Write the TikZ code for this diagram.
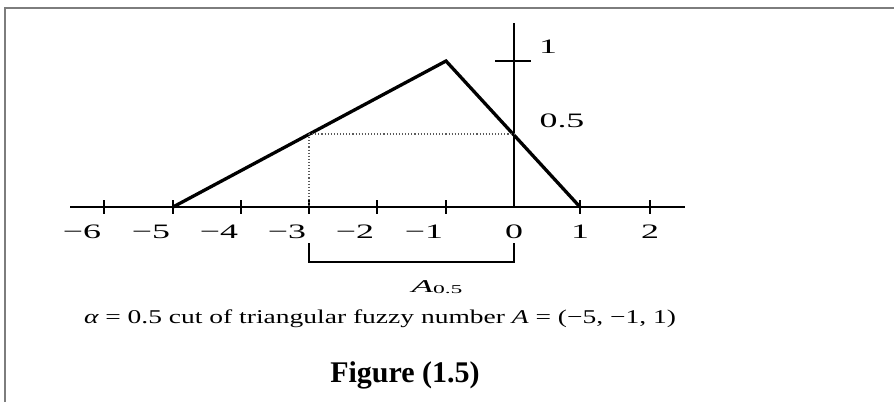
\documentclass[tikz,border=0pt]{standalone}
\usepackage{fontspec}
\setmainfont{Liberation Serif}
\definecolor{framegray}{RGB}{125,125,125}
\definecolor{dotgray}{RGB}{90,90,90}
\newcommand\ticktext[1]{\scalebox{1.75}[1]{\fontsize{20.5}{20.5}\selectfont #1}}
\begin{document}
\begin{tikzpicture}[x=1pt,y=-1pt,
  axisline/.style={line width=2.2pt, black},
  triline/.style={line width=3.3pt, black, line join=miter},
  dotline/.style={dotted, line width=1.1pt, dotgray},
  lab/.style={inner sep=0pt, outer sep=0pt}]
\useasboundingbox (0,0) rectangle (894,402);
% frame
\draw[framegray, line width=1.6pt] (5,402) -- (5,8) -- (894,8);
% axes
\coordinate (xl) at (70,207);
\coordinate (xr) at (685,207);
\coordinate (O) at (514,207);
\coordinate (yt) at (514,23);
\draw[axisline] (xl) -- (xr);
\draw[axisline] (O) -- (yt);
% x ticks
\foreach \x in {104,173,241,309,377,446,580,650} {\draw[axisline] (\x,200) -- (\x,214);}
% y tick at 1
\coordinate (yl) at (495,61);
\coordinate (yr) at (531,61);
\draw[axisline] (yl) -- (yr);
% tick labels
\node[lab, anchor=base east] (tm6) at (101,238) {\ticktext{−6}};
\node[lab, anchor=base east] (tm5) at (170,238) {\ticktext{−5}};
\node[lab, anchor=base east] (tm4) at (238,238) {\ticktext{−4}};
\node[lab, anchor=base east] (tm3) at (306,238) {\ticktext{−3}};
\node[lab, anchor=base east] (tm2) at (374,238) {\ticktext{−2}};
\node[lab, anchor=base east] (tm1) at (443,238) {\ticktext{−1}};
\node[lab, anchor=base] (t0) at (514,238) {\ticktext{0}};
\node[lab, anchor=base] (t1) at (580,238) {\ticktext{1}};
\node[lab, anchor=base] (t2) at (650,238) {\ticktext{2}};
\node[lab, anchor=base] (y1) at (548,53) {\ticktext{1}};
\node[lab, anchor=base] (y05) at (562,127) {\ticktext{0.5}};
% triangle
\coordinate (a) at (173,207);
\coordinate (b) at (446,61);
\coordinate (c) at (580,207);
\draw[triline] (a) -- (b) -- (c);
% alpha cut dotted lines
\coordinate (h) at (309,134);
\coordinate (hz) at (514,134);
\coordinate (hb) at (309,207);
\draw[dotline] (h) -- (hz);
\draw[dotline] (h) -- (hb);
% bracket
\coordinate (k1) at (309,243);
\coordinate (k2) at (309,262);
\coordinate (k3) at (514,262);
\coordinate (k4) at (514,243);
\draw[axisline] (k1) -- (k2) -- (k3) -- (k4);
\node[lab, anchor=base] (acut) at (437,292) {\resizebox{51pt}{\height}{\fontsize{18}{18}\selectfont\itshape A\upshape\raisebox{-1pt}{\fontsize{12}{12}\selectfont 0.5}}};
% caption
\node[lab, anchor=base west] (cap) at (84,323) {\resizebox{592pt}{\height}{\fontsize{19.5}{19.5}\selectfont{\itshape α} = 0.5 cut of triangular fuzzy number {\itshape A} = (−5, −1, 1)}};
\node[lab, anchor=base] (fig) at (405,382) {\fontsize{30}{30}\selectfont\bfseries Figure (1.5)};
\end{tikzpicture}
\end{document}
